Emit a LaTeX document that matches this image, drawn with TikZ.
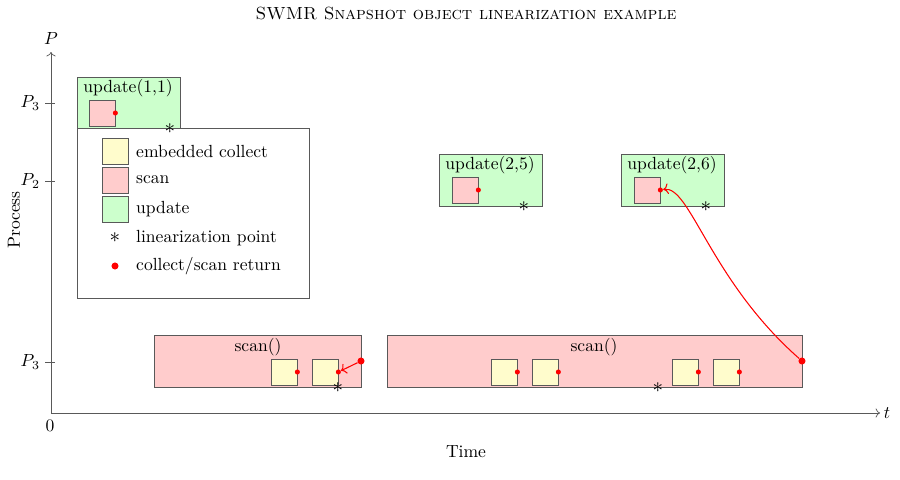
\documentclass[tikz,border=0pt]{standalone}
\usepackage{amsmath}
\usepackage{xcolor}
\usetikzlibrary{arrows.meta}
\usetikzlibrary{calc}

\tikzset{
    frame/.style={draw=black!65},
    updbox/.style={frame,fill=green!20},
    scanbox/.style={frame,fill=red!20},
    collbox/.style={frame,fill=yellow!20},
    sq/.style={minimum size=0.52cm,inner sep=0pt},
    retdot/.style={circle,fill=red,inner sep=0pt,minimum size=2.9pt},
    bigdot/.style={circle,fill=red,inner sep=0pt,minimum size=4pt},
    linpt/.style={inner sep=0pt,font=\large}
}

\begin{document}
\begin{tikzpicture}[x=0.02cm,y=-0.02cm]
        \fill[white] (0,0) rectangle (900,480);
        \useasboundingbox (0,0) rectangle (900,480);

        \node (title) at (466,13) {\textsc{SWMR Snapshot object linearization example}};

        % axes
        \coordinate (O) at (51,413);
        \draw[black!65,->] (O) -- (51,52);
        \node (P) at (51,38) {$P$};
        \draw[black!65,->] (O) -- (880,413) node[right,black,inner sep=2pt] (t) {$t$};
        \node (zero) at (50,426) {$0$};
        \node (time) at (466,452) {Time};
        \node[rotate=90] (process) at (14,220) {Process};
        \foreach \yy/\lab in {103/P_3,181/P_2,362/P_3}{
            \draw[black!65] (45,\yy) -- (55,\yy);
            \node[left,inner sep=1pt] at (42,\yy) {$\lab$};
        }

        % update(1,1) on P3
        \draw[updbox] (77,77) rectangle (180,128);
        \node (u11) at (128,88) {update(1,1)};
        \node[sq,scanbox] (s11) at (102,113) {};
        \node[retdot] (r11) at (s11.east) {};

        % legend
        \draw[frame,fill=white] (77,128) rectangle (309,298);
        \node[linpt] (l11) at (170,129) {$*$};
        \node[sq,collbox] (lc) at (115,151) {};
        \node[sq,scanbox] (ls) at (115,180) {};
        \node[sq,updbox] (lu) at (115,209) {};
        \node[linpt] (lstar) at (115,238) {$*$};
        \node[bigdot] (ldot) at (115,266) {};
        \node[anchor=west] at (130,151) {embedded collect};
        \node[anchor=west] at (130,180) {scan};
        \node[anchor=west] at (130,209) {update};
        \node[anchor=west] at (130,238) {linearization point};
        \node[anchor=west] at (130,266) {collect/scan return};

        % update(2,5) and update(2,6) on P2
        \draw[updbox] (439,154) rectangle (542,206);
        \node (u25) at (490,165) {update(2,5)};
        \node[sq,scanbox] (s25) at (465,190) {};
        \node[retdot] (r25) at (s25.east) {};
        \node[linpt] (l25) at (524,207) {$*$};

        \draw[updbox] (621,154) rectangle (724,206);
        \node (u26) at (672,165) {update(2,6)};
        \node[sq,scanbox] (s26) at (647,190) {};
        \node[retdot] (r26) at (s26.east) {};
        \node[linpt] (l26) at (706,207) {$*$};

        % scans on P3
        \draw[scanbox] (154,335) rectangle (361,387);
        \node (scA) at (258,347) {scan()};
        \foreach \cx in {284,325}{
            \node[sq,collbox] (c\cx) at (\cx,372) {};
            \node[retdot] (d\cx) at (c\cx.east) {};
        }
        \node[bigdot] (endA) at (361,361) {};
        \node[linpt] (lA) at (338,388) {$*$};

        \draw[scanbox] (387,335) rectangle (802,387);
        \node (scB) at (594,347) {scan()};
        \foreach \cx in {504,545,685,726}{
            \node[sq,collbox] (c\cx) at (\cx,372) {};
            \node[retdot] (d\cx) at (c\cx.east) {};
        }
        \node[bigdot] (endB) at (802,361) {};
        \node[linpt] (lB) at (658,388) {$*$};

        % returns
        \draw[red,semithick,->] (endA) -- (d325);
        \draw[red,semithick,->] (endB) .. controls (710,280) and (690,185) .. (r26);
\end{tikzpicture}
\end{document}
